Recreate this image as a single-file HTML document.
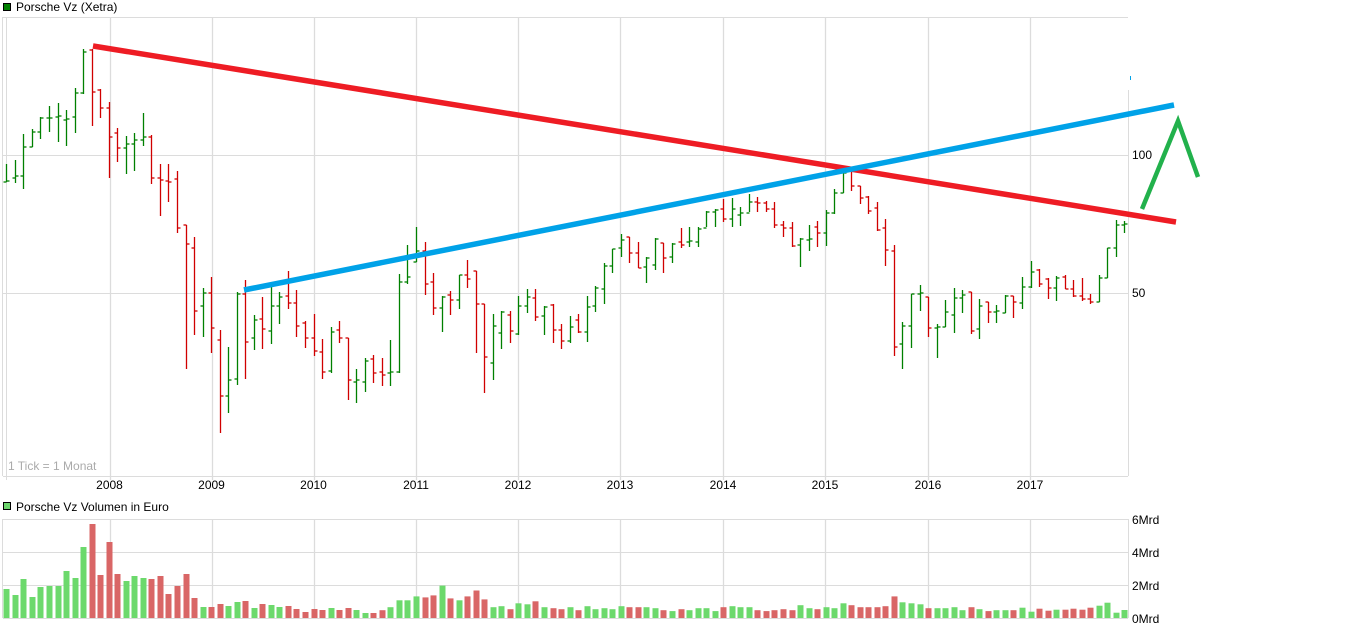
<!DOCTYPE html>
<html><head><meta charset="utf-8"><style>
html,body{margin:0;padding:0;background:#fff;width:1346px;height:630px;overflow:hidden}
svg{display:block;font-family:"Liberation Sans",Arial,sans-serif}
</style></head><body>
<svg id="s" width="1346" height="630" xmlns="http://www.w3.org/2000/svg">
<rect x="3.5" y="3.5" width="7" height="7" fill="#008000" stroke="#000" stroke-width="1"/>
<text x="16" y="11" font-size="12" fill="#000">Porsche Vz (Xetra)</text>
<g stroke="#dcdcdc" stroke-width="1" fill="none" id="grid">
<line x1="3" y1="17.5" x2="1128" y2="17.5"/>
<line x1="3" y1="476.5" x2="1128" y2="476.5"/>
<line x1="2.5" y1="17" x2="2.5" y2="476"/>
<line x1="6.5" y1="17" x2="6.5" y2="480"/>
<line x1="1128.5" y1="90" x2="1128.5" y2="476"/>
<line x1="3" y1="155.5" x2="1128" y2="155.5"/>
<line x1="3" y1="293.5" x2="1128" y2="293.5"/>
<line x1="3" y1="519.5" x2="1128" y2="519.5"/>
<line x1="3" y1="552.5" x2="1128" y2="552.5"/>
<line x1="3" y1="585.5" x2="1128" y2="585.5"/>
<line x1="3" y1="618.5" x2="1128" y2="618.5"/>
<line x1="2.5" y1="519" x2="2.5" y2="618"/>
<line x1="1128.5" y1="519" x2="1128.5" y2="618"/>
</g>
<text x="8" y="470" font-size="12" fill="#aaa">1 Tick = 1 Monat</text>
<g font-size="12" fill="#000" id="lab">
<text x="1132" y="159">100</text>
<text x="1132" y="297">50</text>
<text x="1132" y="524">6Mrd</text>
<text x="1132" y="557">4Mrd</text>
<text x="1132" y="590">2Mrd</text>
<text x="1132" y="623">0Mrd</text>
</g>
<rect x="3.5" y="502.5" width="7" height="7" fill="#6dd66d" stroke="#000" stroke-width="1"/>
<text x="16" y="511" font-size="12" fill="#000">Porsche Vz Volumen in Euro</text>
<g id="bars"></g>
<g id="vol"></g>
<line x1="93" y1="46" x2="1176" y2="222" stroke="#ee1c24" stroke-width="5.5"/>
<line x1="244" y1="290" x2="1174" y2="105" stroke="#00a2e8" stroke-width="5.5"/>
<polyline points="1142,209 1178,121 1198,177" fill="none" stroke="#22b14c" stroke-width="4.5"/>
<rect x="1130" y="76" width="1" height="4" fill="#00a2e8"/>
</svg>
<script>
var P=[[164,182,182,181],[160,183,178,176],[134,189,176,147],[129,147,147,132],[117,139,132,118],[106,132,118,118],[103,142,117,116],[110,146,120,119],[88,133,117,93],[49,94,93,52],
[49,126,50,92],[89,118,90,108],[102,178,108,137],[128,162,133,148],[136,174,148,144],[133,171,144,140],[113,146,140,137],[135,184,137,178],[164,216,178,180],[164,202,181,182],
[171,233,179,228],[225,369,225,244],[237,335,248,311],[288,337,306,293],[277,353,293,328],[330,433,340,396],[347,413,396,380],[292,385,379,294],[280,379,294,342],[315,350,338,320],
[297,349,319,329],[287,344,331,306],[292,324,306,297],[271,309,296,303],[290,337,303,326],[321,348,323,338],[314,356,338,351],[339,379,352,372],[327,373,371,332],[321,343,330,338],
[338,400,338,380],[369,403,382,380],[358,392,382,361],[355,383,359,373],[358,386,372,375],[340,386,373,372],[274,373,372,282],[245,284,282,277],[227,262,262,251],[242,295,251,284],
[273,315,282,308],[296,332,308,297],[291,315,295,300],[275,309,300,275],[260,288,275,279],[271,353,271,304],[304,393,304,357],[314,380,363,326],[311,349,333,312],[311,343,315,331],
[296,335,334,306],[289,313,306,297],[289,321,298,317],[306,335,316,307],[304,343,305,330],[324,349,330,341],[316,343,341,327],[314,333,320,332],[296,342,332,307],[286,312,306,288],
[263,304,289,266],[249,273,266,249],[234,257,248,240],[237,263,237,253],[242,268,253,268],[257,283,267,258],[238,270,265,239],[243,273,243,258],[243,263,257,244],[228,248,242,245],
[227,247,242,241],[227,247,242,229],[211,227,228,212],[209,227,212,210],[199,222,209,219],[198,227,219,209],[207,226,215,213],[194,212,213,202],[197,212,202,203],[201,212,203,209],
[202,228,209,225],[221,237,225,228],[222,247,228,246],[238,267,245,239],[225,251,240,239],[221,247,227,233],[210,246,233,213],[189,214,213,193],[168,193,193,173],[167,191,170,186],
[186,204,186,198],[196,214,197,211],[202,231,208,230],[219,266,228,250],[245,356,251,347],[322,369,344,326],[294,348,326,294],[285,311,294,293],[297,337,297,328],[324,358,328,327],
[300,327,327,312],[288,333,315,298],[290,313,298,295],[292,334,292,331],[299,339,329,306],[302,323,302,312],[305,323,312,311],[295,313,313,296],[296,318,296,302],[277,309,303,287],
[261,288,287,272],[269,287,270,284],[278,299,279,288],[276,301,288,278],[275,289,277,289],[280,297,289,296],[278,301,296,299],[294,304,299,302],[275,302,302,278],[248,278,278,248],
[220,257,248,225],[221,233,225,224]];
var V=[29,23,39,21,31,32,32,47,40,71,94,43,76,44,37,42,40,39,42,24,32,44,20,11,11,14,12,16,17,10,14,13,11,12,9,6,9,8,10,8,10,8,5,5,
7.8,10.8,17.7,17.7,21.6,20.6,22.6,32.4,19.6,17.7,21.6,27.5,18.6,10.8,11.8,8.8,14.7,13.7,16.7,10.8,9.8,8.8,10.8,7.8,11.8,8.8,9.8,8.8,11.8,10.8,10.8,10.8,9.8,7.8,6.9,8.8,7.8,9.8,9.8,6.9,10.8,11.8,10.8,10.8,7.8,6.9,7.8,8.8,7.8,12.8,9.8,8.8,10.8,9.8,14.7,12.8,10.8,10.8,10.8,11.8,21.6,15.7,14.7,13.7,9.8,9.8,9.8,10.8,7.8,10.8,8.8,6.9,7.8,7.8,7.8,
10.3,6.3,9.3,7.3,8.3,8.3,9.3,8.3,10.3,12.3,15.3,5.3];
var ns="http://www.w3.org/2000/svg",gb=document.getElementById("bars"),gv=document.getElementById("vol");
function L(g,x1,y1,x2,y2,c){var l=document.createElementNS(ns,"line");l.setAttribute("x1",x1);l.setAttribute("y1",y1);l.setAttribute("x2",x2);l.setAttribute("y2",y2);l.setAttribute("stroke",c);l.setAttribute("stroke-width","1.3");g.appendChild(l);}
for(var i=0;i<P.length;i++){var p=P[i],x=Math.round(6.3+8.535*i)+0.5,up=p[3]<=p[2],c=up?"#008000":"#d00000";
L(gb,x,p[0],x,p[1],c);L(gb,x-3,p[2],x,p[2],c);L(gb,x,p[3],x+3,p[3],c);
var h=V[i]||8,r=document.createElementNS(ns,"rect");r.setAttribute("x",x-3);r.setAttribute("y",618-h);r.setAttribute("width",6);r.setAttribute("height",h);r.setAttribute("fill",up?"#6cd96c":"#d96666");gv.appendChild(r);}
var yrs=["2008","2009","2010","2011","2012","2013","2014","2015","2016","2017"],xs=[109.5,211.5,313.5,416,518,620,723,825,928,1030],gg=document.getElementById("grid"),lb=document.getElementById("lab");
for(var j=0;j<10;j++){var X=Math.round(xs[j])+0.5;L(gg,X,17,X,480,"#dcdcdc");L(gg,X,519,X,618,"#dcdcdc");
var t=document.createElementNS(ns,"text");t.setAttribute("x",xs[j]);t.setAttribute("y",489);t.setAttribute("text-anchor","middle");t.textContent=yrs[j];lb.appendChild(t);}
</script>
</body></html>
